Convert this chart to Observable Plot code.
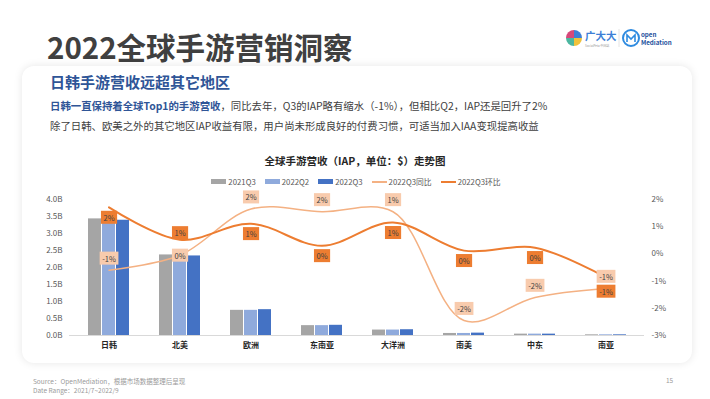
<!DOCTYPE html>
<html><head><meta charset="utf-8">
<script src="https://cdn.jsdelivr.net/npm/d3@7"></script>
<script src="https://cdn.jsdelivr.net/npm/@observablehq/plot@0.6"></script>
<style>
body{margin:0;width:710px;height:399px;background:#fff;font-family:"Noto Sans CJK SC","Noto Sans",sans-serif;position:relative;overflow:hidden}
.abs{position:absolute;white-space:nowrap;line-height:1}
#title{left:47px;top:32px;font-size:29.5px;font-weight:bold;color:#404040}
#card{left:22px;top:66px;width:670px;height:297px;border-radius:12px;background:#fff;box-shadow:0 0 8px rgba(0,0,0,0.10)}
#sub{left:50px;top:74px;font-size:15px;font-weight:bold;color:#2f5597}
#l1{left:50px;top:101px;font-size:10.4px;color:#404040}
#l1 b{color:#2f5597}
#l2{left:50px;top:121px;font-size:10.4px;color:#404040}
#ctitle{left:0;width:710px;text-align:center;top:156px;font-size:10.5px;font-weight:bold;color:#262626}
#legend{left:0;width:710px;top:178px;display:flex;justify-content:center;gap:9px;font-size:7.8px;color:#595959;padding-left:1px}
#legend span{display:flex;align-items:center;gap:2px}
#legend i{display:inline-block;width:15px}
#chart{left:20px;top:190px}
#foot{left:33px;top:377px;font-size:6.5px;color:#9a9a9a;line-height:1.35}
#page{left:666px;top:377px;font-size:6.5px;color:#9a9a9a}
</style></head><body>
<div class="abs" id="title">2022全球手游营销洞察</div>
<div class="abs" id="logos" style="left:566px;top:27px">
<svg width="125" height="22" viewBox="0 0 125 22">
<path d="M8,11 L8,3 A8,8 0 0 1 16,11 Z" fill="#3d7fd6"/>
<path d="M8,11 L16,11 A8,8 0 0 1 8,19 Z" fill="#f0c23b"/>
<path d="M8,11 L8,19 A8,8 0 0 1 0,11 Z" fill="#4bb6a0"/>
<path d="M8,11 L0,11 A8,8 0 0 1 8,3 Z" fill="#d6487a"/>
<text x="19" y="13" font-size="10.5" font-weight="bold" fill="#3d7fd6">广大大</text>
<text x="19" y="19.5" font-size="3" fill="#999">SocialPeta 中国站</text>
<line x1="53" y1="2" x2="53" y2="20" stroke="#ddd" stroke-width="0.8"/>
<circle cx="65" cy="11" r="8" fill="none" stroke="#2f8be0" stroke-width="2"/>
<path d="M61,15 L61,8 L65,12 L69,8 L69,15" fill="none" stroke="#2f8be0" stroke-width="1.6"/>
<text x="75" y="9.5" font-size="6.2" font-weight="bold" fill="#1b4f9c">open</text>
<text x="75" y="17.5" font-size="6.2" font-weight="bold" fill="#1b4f9c">Mediation</text>
</svg></div>
<div class="abs" id="card"></div>
<div class="abs" id="sub">日韩手游营收远超其它地区</div>
<div class="abs" id="l1"><b>日韩一直保持着全球Top1的手游营收</b>，同比去年，Q3的IAP略有缩水（-1%），但相比Q2，IAP还是回升了2%</div>
<div class="abs" id="l2">除了日韩、欧美之外的其它地区IAP收益有限，用户尚未形成良好的付费习惯，可适当加入IAA变现提高收益</div>
<div class="abs" id="ctitle">全球手游营收（IAP，单位：$）走势图</div>
<div class="abs" id="legend"></div>
<div class="abs" id="chart"></div>
<div class="abs" id="foot">Source：OpenMediation，根据市场数据整理后呈现<br>Date Range：2021/7~2022/9</div>
<div class="abs" id="page">15</div>
<script>
// ---- data ----
const categories = ["日韩","北美","欧洲","东南亚","大洋洲","南美","中东","南亚"];
const iap2021Q3 = [3.43, 2.37, 0.74, 0.29, 0.16, 0.06, 0.04, 0.02]; // B$
const iap2022Q2 = [3.35, 2.33, 0.74, 0.29, 0.16, 0.06, 0.04, 0.02];
const iap2022Q3 = [3.39, 2.34, 0.76, 0.30, 0.17, 0.07, 0.04, 0.02];
const yoy2022Q3 = [-0.60, -0.05, 1.65, 1.55, 1.55, -2.45, -1.60, -1.27]; // %
const qoq2022Q3 = [1.71, 0.52, 1.11, 0.30, 1.15, 0.12, 0.23, -0.86]; // %
const yoyLabels = ["-1%","0%","2%","2%","1%","-2%","-2%","-1%"];
const qoqLabels = ["2%","1%","1%","0%","1%","0%","0%","-1%"];
const leftTicks = [0, 0.5, 1, 1.5, 2, 2.5, 3, 3.5, 4];
const rightTicks = [-3, -2, -1, 0, 1, 2];
const seriesNames = ["2021Q3","2022Q2","2022Q3","2022Q3同比","2022Q3环比"];

// ---- styles ----
const colors = ["#a5a5a5","#8faadc","#4472c4","#f4b183","#ed7d31"];
// right axis (%) shares the left axis' scale: -3%..2%  <->  0..4B
const toB = p => (p + 3) * 0.8;
const fromB = b => b / 0.8 - 3;

const rows = categories.map((c, i) => ({
  c, a: iap2021Q3[i], b: iap2022Q2[i], d: iap2022Q3[i],
  yoy: toB(yoy2022Q3[i]), qoq: toB(qoq2022Q3[i]),
  yl: yoyLabels[i], ql: qoqLabels[i]
}));

// legend
const lg = document.getElementById("legend");
seriesNames.forEach((n, i) => {
  const s = document.createElement("span");
  const sw = document.createElement("i");
  sw.style.height = i < 3 ? "5px" : "2px";
  sw.style.background = colors[i];
  s.appendChild(sw);
  s.appendChild(document.createTextNode(n));
  lg.appendChild(s);
});

const font = '"Noto Sans CJK SC","Noto Sans",sans-serif';
const above = new Set(["北美"]);
const lowDark = new Set(["南亚"]);
const lab = {fill: "#404040", fontSize: 7.5};
const chart = Plot.plot({
  width: 660, height: 170,
  marginLeft: 49, marginRight: 36, marginTop: 9, marginBottom: 25,
  x: {domain: categories, padding: 0, label: null},
  y: {domain: [0, 4], label: null},
  style: {fontFamily: font, fontSize: "8px", color: "#595959", background: "transparent", overflow: "visible"},
  marks: [
    Plot.axisY({ticks: leftTicks, tickSize: 0, tickPadding: 7, tickFormat: d => d.toFixed(1) + "B", label: null}),
    Plot.axisY({anchor: "right", ticks: rightTicks.map(toB), tickSize: 0, tickPadding: 7,
      tickFormat: d => Math.round(fromB(d)) + "%", label: null}),
    Plot.axisX({tickSize: 0, tickPadding: 7, fontWeight: "bold", fill: "#262626", label: null}),
    Plot.barY(rows, {x: "c", y: "a", fill: colors[0], insetLeft: 15, insetRight: 43}),
    Plot.barY(rows, {x: "c", y: "b", fill: colors[1], insetLeft: 29, insetRight: 29}),
    Plot.barY(rows, {x: "c", y: "d", fill: colors[2], insetLeft: 43, insetRight: 15}),
    Plot.ruleY([0], {stroke: "#d9d9d9", strokeWidth: 1}),
    Plot.line(rows, {x: "c", y: "yoy", stroke: colors[3], strokeWidth: 1.5, curve: "catmull-rom"}),
    Plot.line(rows, {x: "c", y: "qoq", stroke: colors[4], strokeWidth: 2, curve: "catmull-rom"}),
    Plot.text(rows.filter(r => !above.has(r.c)), {x: "c", y: "yoy", text: "yl", dy: -11, ...lab, ariaDescription: "lab-light"}),
    Plot.text(rows.filter(r => above.has(r.c)), {x: "c", y: "yoy", text: "yl", dy: 1, ...lab, ariaDescription: "lab-light"}),
    Plot.text(rows.filter(r => !above.has(r.c) && !lowDark.has(r.c)), {x: "c", y: "qoq", text: "ql", dy: 11, ...lab, ariaDescription: "lab-dark"}),
    Plot.text(rows.filter(r => lowDark.has(r.c)), {x: "c", y: "qoq", text: "ql", dy: 15, ...lab, ariaDescription: "lab-dark"}),
    Plot.text(rows.filter(r => above.has(r.c)), {x: "c", y: "qoq", text: "ql", dy: -6, ...lab, ariaDescription: "lab-dark"})
  ]
});
document.getElementById("chart").appendChild(chart);

// label boxes behind the text the library placed
const boxFill = {"lab-light": "#f8cbad", "lab-dark": "#ed7d31"};
chart.querySelectorAll("g[aria-description]").forEach(g => {
  const key = g.getAttribute("aria-description");
  if (!boxFill[key]) return;
  g.querySelectorAll("text").forEach(t => {
    const bb = t.getBBox();
    const r = document.createElementNS("http://www.w3.org/2000/svg", "rect");
    r.setAttribute("x", bb.x - 2.5);
    r.setAttribute("y", bb.y - 1);
    r.setAttribute("width", bb.width + 5);
    r.setAttribute("height", bb.height + 2);
    r.setAttribute("fill", boxFill[key]);
    const tr = t.getAttribute("transform");
    if (tr) r.setAttribute("transform", tr);
    t.parentNode.insertBefore(r, t);
  });
});
</script>
</body></html>
